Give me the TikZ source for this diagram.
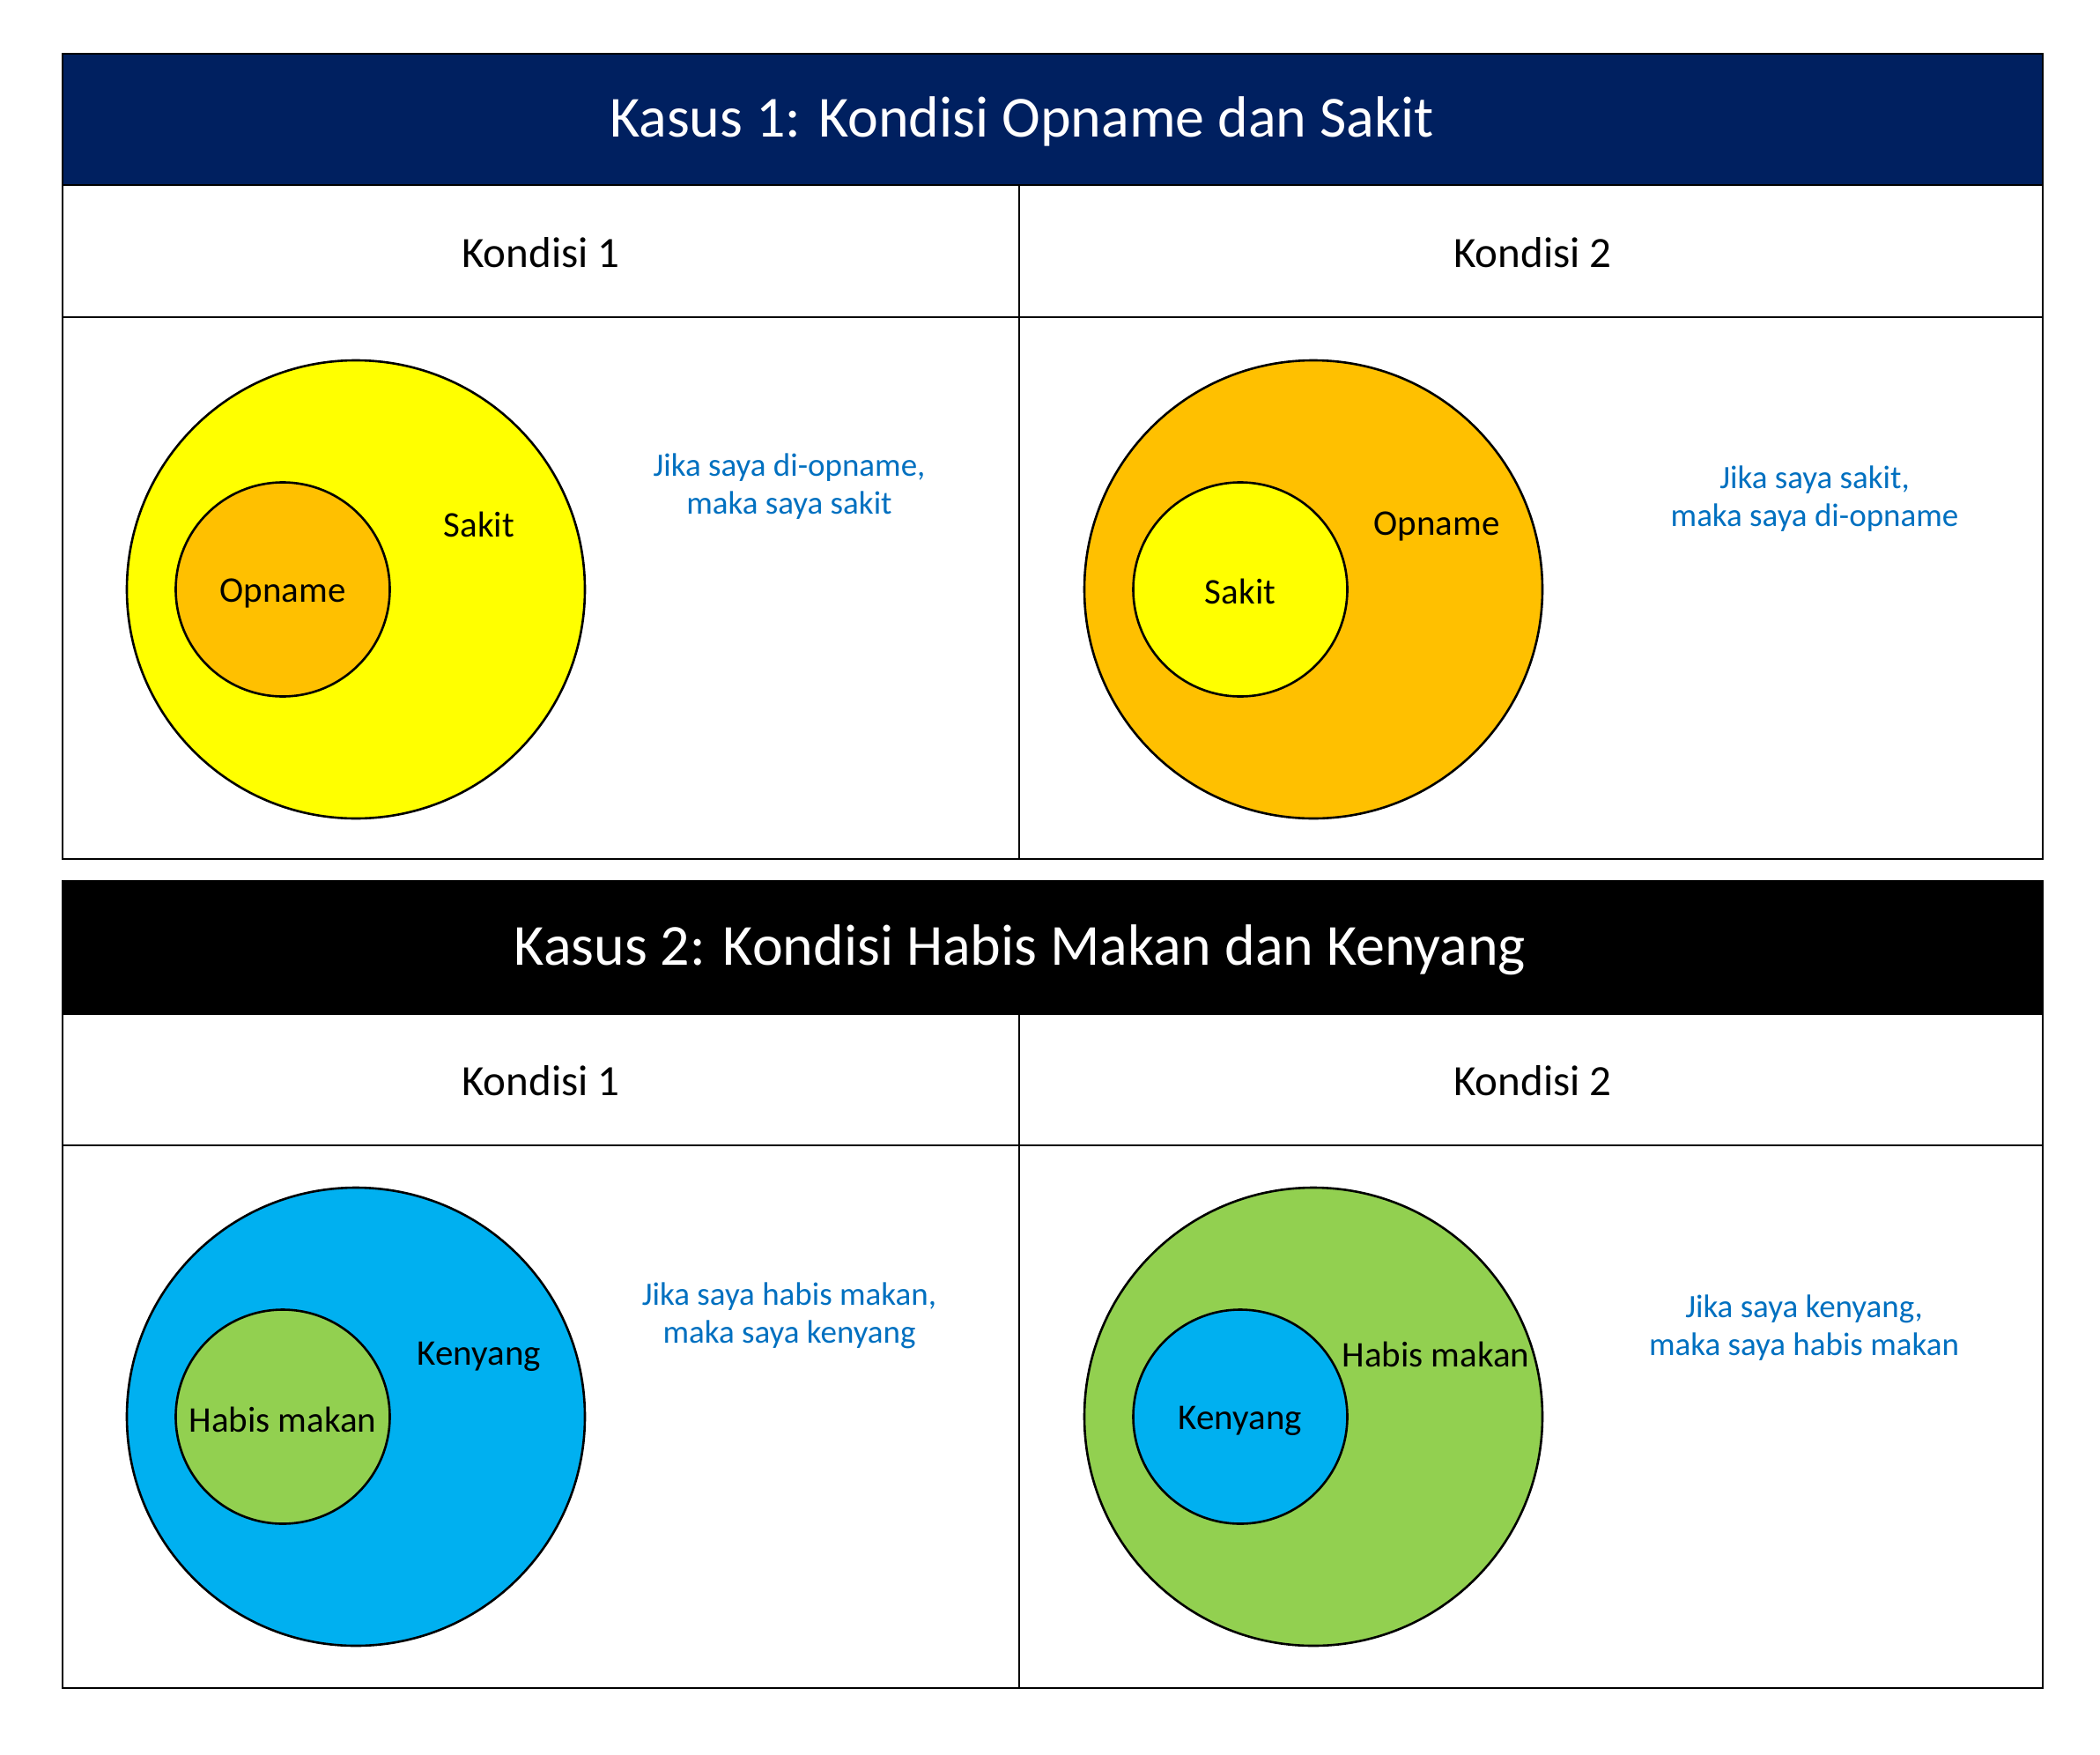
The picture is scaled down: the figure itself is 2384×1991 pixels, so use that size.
\documentclass[tikz,border=0pt]{standalone}
\usepackage{fontspec}
\setmainfont{Carlito}
\definecolor{navy}{HTML}{002060}
\definecolor{setorange}{HTML}{FFC000}
\definecolor{setyellow}{HTML}{FFFF00}
\definecolor{setblue}{HTML}{00B0F0}
\definecolor{setgreen}{HTML}{92D050}
\definecolor{notecolor}{HTML}{0070C0}
\tikzset{
  grid/.style={line width=2.6pt, draw=black},
  headbar/.style={text=white, font=\fontsize{66}{70}\selectfont},
  colhead/.style={font=\fontsize{49}{55}\selectfont},
  bigset/.style={circle, draw=black, line width=2.6pt, minimum size=520pt, inner sep=0pt},
  smallset/.style={circle, draw=black, line width=2.6pt, minimum size=243pt, inner sep=0pt},
  setname/.style={font=\fontsize{41}{48}\selectfont},
  note/.style={text=notecolor, align=center, font=\fontsize{37}{43}\selectfont}
}
\begin{document}
\begin{tikzpicture}[x=1pt,y=-1pt]
\useasboundingbox (0,0) rectangle (2384,1991);
\fill[white] (0,0) rectangle (2384,1991);

% ---------- Case 1 table ----------
\fill[navy] (71,61) rectangle (2319,210);
\draw[grid] (71,61) rectangle (2319,975);
\draw[grid] (71,210) -- (2319,210);
\draw[grid] (71,360) -- (2319,360);
\draw[grid] (1157,210) -- (1157,975);
\node[headbar] (h1) at (1160,138) {Kasus 1: Kondisi Opname dan Sakit};
\node[colhead] (h1a) at (614,287) {Kondisi 1};
\node[colhead] (h1b) at (1740,287) {Kondisi 2};

% condition 1: Opname inside Sakit
\node[bigset, fill=setyellow] (s1big) at (404,669) {};
\node[smallset, fill=setorange] (s1small) at (321,669) {};
\node[setname] (s1in) at (321,673) {Opname};
\node[setname] (s1lab) at (544,595) {Sakit};
\node[note] (n1) at (896,552) {Jika saya di-opname,\\maka saya sakit};

% condition 2: Sakit inside Opname
\node[bigset, fill=setorange] (s2big) at (1491,669) {};
\node[smallset, fill=setyellow] (s2small) at (1408,669) {};
\node[setname] (s2in) at (1408,671) {Sakit};
\node[setname] (s2lab) at (1631,597) {Opname};
\node[note] (n2) at (2060,566) {Jika saya sakit,\\maka saya di-opname};

% ---------- Case 2 table ----------
\fill[black] (71,1000) rectangle (2319,1151);
\draw[grid] (71,1000) rectangle (2319,1916);
\draw[grid] (71,1151) -- (2319,1151);
\draw[grid] (71,1300) -- (2319,1300);
\draw[grid] (1157,1151) -- (1157,1916);
\node[headbar] (h2) at (1158,1078) {Kasus 2: Kondisi Habis Makan dan Kenyang};
\node[colhead] (h2a) at (614,1227) {Kondisi 1};
\node[colhead] (h2b) at (1740,1227) {Kondisi 2};

% condition 1: Habis makan inside Kenyang
\node[bigset, fill=setblue] (s3big) at (404,1608) {};
\node[smallset, fill=setgreen] (s3small) at (321,1608) {};
\node[setname] (s3in) at (321,1611) {Habis makan};
\node[setname] (s3lab) at (544,1540) {Kenyang};
\node[note] (n3) at (896,1493) {Jika saya habis makan,\\maka saya kenyang};

% condition 2: Kenyang inside Habis makan
\node[bigset, fill=setgreen] (s4big) at (1491,1608) {};
\node[smallset, fill=setblue] (s4small) at (1408,1608) {};
\node[setname] (s4in) at (1408,1613) {Kenyang};
\node[setname] (s4lab) at (1630,1537) {Habis makan};
\node[note] (n4) at (2048,1507) {Jika saya kenyang,\\maka saya habis makan};
\end{tikzpicture}
\end{document}
